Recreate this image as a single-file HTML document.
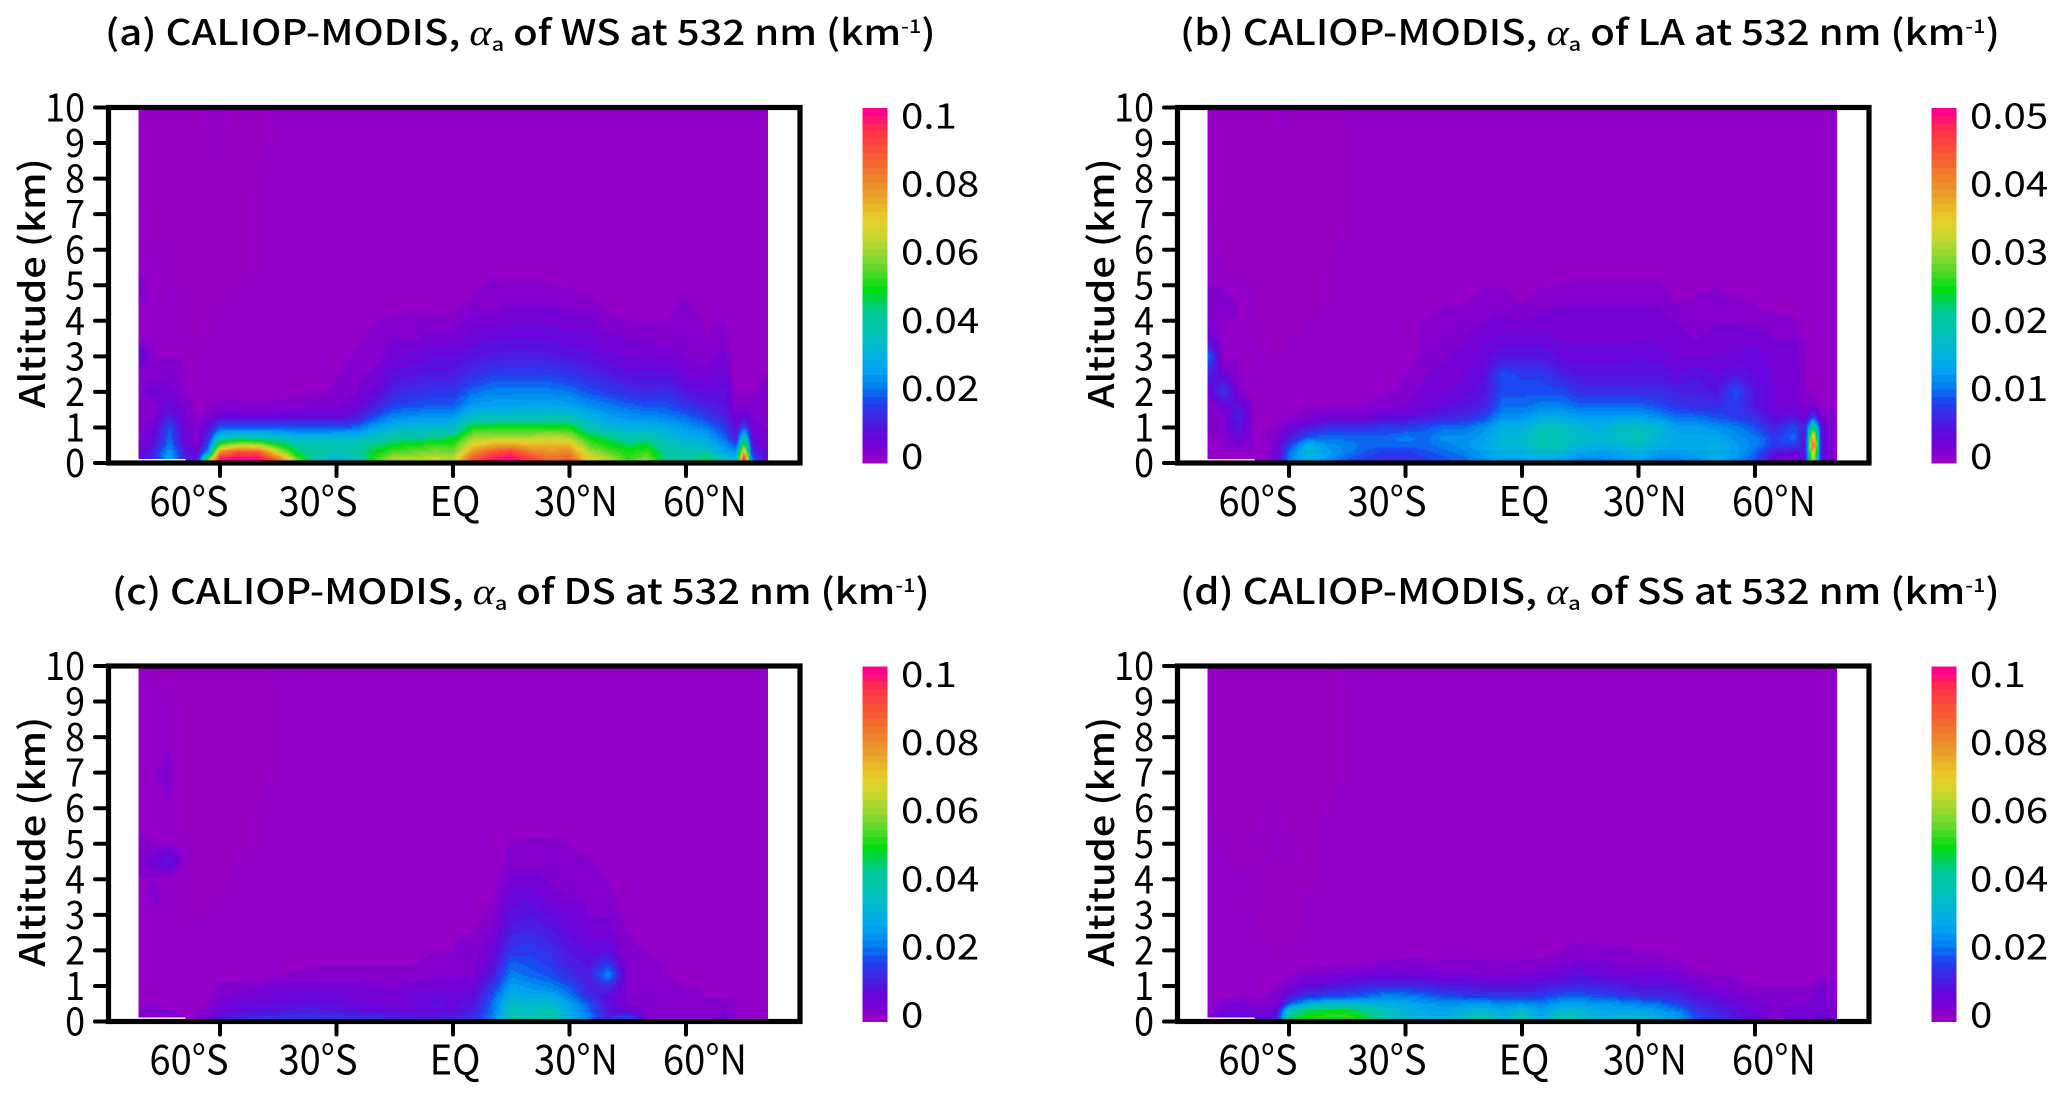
<!DOCTYPE html>
<html lang="en">
<head>
<meta charset="utf-8">
<title>CALIOP-MODIS aerosol extinction by type</title>
<style>
html,body{margin:0;padding:0;background:#fff;}
svg{display:block;}
text{font-family:"Noto Sans CJK JP","Liberation Sans",sans-serif;fill:#000;}
.title{font-size:35px;font-weight:500;}
.alpha{font-family:"Liberation Serif","DejaVu Serif",serif;font-style:italic;font-size:37px;}
.sub{font-size:19px;}
.sup{font-size:19px;}
.axis-title{font-size:35px;font-weight:500;}
.tick{font-size:39px;}
.xtick{font-size:41px;}
.cbar{font-size:35px;}
</style>
</head>
<body>
<svg id="figure" xmlns="http://www.w3.org/2000/svg" width="2067" height="1097" viewBox="0 0 2067 1097">
  <rect x="0" y="0" width="2067" height="1097" fill="#fff"/>
  <text class="title fit" data-w="831" x="105" y="45">(a) CALIOP-MODIS, <tspan class="alpha">α</tspan><tspan class="sub" dy="6">a</tspan><tspan dy="-6"> of WS at 532 nm (km</tspan><tspan class="sup" dy="-12">-1</tspan><tspan dy="12">)</tspan></text>
  <text class="title fit" data-w="820" x="1180" y="45">(b) CALIOP-MODIS, <tspan class="alpha">α</tspan><tspan class="sub" dy="6">a</tspan><tspan dy="-6"> of LA at 532 nm (km</tspan><tspan class="sup" dy="-12">-1</tspan><tspan dy="12">)</tspan></text>
  <text class="title fit" data-w="818" x="112" y="604">(c) CALIOP-MODIS, <tspan class="alpha">α</tspan><tspan class="sub" dy="6">a</tspan><tspan dy="-6"> of DS at 532 nm (km</tspan><tspan class="sup" dy="-12">-1</tspan><tspan dy="12">)</tspan></text>
  <text class="title fit" data-w="820" x="1180" y="604">(d) CALIOP-MODIS, <tspan class="alpha">α</tspan><tspan class="sub" dy="6">a</tspan><tspan dy="-6"> of SS at 532 nm (km</tspan><tspan class="sup" dy="-12">-1</tspan><tspan dy="12">)</tspan></text>
</svg>
<script>
// ---- axes ----
const latitudes = [-81,-77,-73,-69,-66,-63,-60,-55,-50,-45,-40,-35,-30,-25,-20,-15,-10,-5,0,5,10,15,20,25,30,35,40,45,50,55,60,65,70,73,75,77,81];
const altitudes = [0.1,0.3,0.5,0.7,1,1.3,1.6,2,2.5,3,3.5,4,4.5,5,5.5,7,10];
const latTicks = [-60,-30,0,30,60];
const latTickLabels = ['60°S','30°S','EQ','30°N','60°N'];
const altTicks = [0,1,2,3,4,5,6,7,8,9,10];
const colorbarTicksStandard = [0,0.02,0.04,0.06,0.08,0.1];
const colorbarTicksLA = [0,0.01,0.02,0.03,0.04,0.05];
const colorbarMaxStandard = 0.1;
const colorbarMaxLA = 0.05;

// ---- series: extinction (10^-3 km^-1), one profile per latitude, bottom to top; missing top levels are 0 ----
const wsExtinction = [
[8,6,4,3,3,3,2,3,3,9,2,2,2,5,0,0,0],
[14,12,10,8,6,4,3,7,3,2,2,2,2,0,0,-1,-1],
[28,26,22,20,18,12,8,5,3,2,2,1,0,0,0,-1,-1],
[12,10,8,6,6,5,4,2,2,2,1,0,0,-1,-1,-1,-1],
[8,6,4,3,3,2,1,1,0,0,-1,-1,-1,-1,-1,-1,-1],
[55,26,18,14,9,4,2,1,0,0,0,0,-1,-1,-1,-1,0],
[100,80,55,36,18,8,3,1,1,0,0,0,0,-1,-1,-1,0],
[100,90,65,40,18,7,3,1,0,0,0,0,0,0,-1,-1,-1],
[100,88,62,40,18,7,3,1,0,0,0,0,0,0,0,0,-1],
[85,65,50,36,18,7,3,1],
[55,46,40,32,18,8,4,1.5],
[36,40,38,32,18,8,4,2],
[30,36,38,33,18,8,4,2.5,2,1],
[35,40,38,32,20,10,6,4,3,2.5,1.5,1],
[52,48,44,36,26,18,12,7,5,3,3,2,1],
[62,55,48,41,31,23,17,13,9,6,4,2.5,1],
[62,56,50,42,32,24,18,14,10,7,4,3,1.5],
[64,58,52,44,32,25,19,15,11,8,5,3,1],
[62,57,52,47,33,25,19,15,11,8,5,3,1],
[88,78,68,60,49,34,26,20,14,10,7,5,3,1],
[98,88,74,62,50,35,27,22,16,11,8,5,3,3,1],
[100,92,76,62,50,35,27,22,16,12,8,6,4,3],
[92,82,72,62,50,35,28,22,16,12,8,6,4,3,1],
[84,78,72,64,50,36,28,22,16,11,8,6,4,2,1],
[88,80,72,62,50,36,27,21,15,10,7,5,3,2,0.5],
[68,62,55,50,38,30,24,18,13,9,7,5,3,1],
[62,55,50,45,32,26,22,16,11,7,5,3,1],
[52,50,46,38,30,24,20,14,9,6,4,2,1],
[58,53,48,40,30,24,18,13,9,6,4,2,1],
[42,40,38,34,28,22,18,14,9,5,3,2,1.5,1],
[40,38,34,30,25,20,15,10,6,4,3,3,2.5,1],
[48,38,32,28,22,16,12,8,5,3,2,2,1],
[35,28,24,20,16,12,10,9,7,5,3,2,1],
[30,25,18,12,8,5,3,2],
[100,78,55,40,18,8,4,2],
[20,14,10,8,6,4,3,2,1],
[6,6,5,5,4,3,3,3,2,2,2,2,2,2,1]
];
const laExtinction = [
[1,1,1,1,1,1,1,2,6,11,3,2,2,1,1,0,0],
[1,1,1,1,2,2,3,8,3,1,1,1,2,1,0,-1,-1],
[1,1,2,4,5,6,5,2,1,1,1,1,1,0,-1,-1,-1],
[1,1,1,1,1,1,1,0,0,0,1,1,0,0,-1,-1,-1],
[1,1,1,1,1,1,0,0,0,0,0,-1,-1,-1,-1,-1,-1],
[3,3,3,2,1,1,0,0,0,0,-1,-1,-1,-1,-1,-1,0],
[11,10,8,5,3,1,0,0,0,0,0,-1,-1,-1,-1,-1,0],
[15,16,15,10,5,2,1,0,0,0,0,0,-1,-1,-1,-1,-1],
[12,13,12,10,7,3,1,0,0,0,0,0,0,0,0,-1,-1],
[9,11,11,10,7,3,1],
[8,9,10,10,7,3,1.5],
[7,8,10,10,8,4,2,1],
[7,8,10,11,8,4,2,1.5,1],
[8,9,10,10,9,5,3.5,2.5,2,1.5,1.5,1.2],
[9,10,11,12,10,6,4,3,2.5,2,1.5,1.5,1,0.5],
[10,11,12,12,10,6.5,5,3.5,3,2.5,2,1.5,1,0.5],
[12,13,14,13,12,8,6,5,4,3.5,3,2,1.5,1],
[13,15,16,16,15,12,10,9,9,5,3.5,2.5,1.5,1],
[13,15,16,16,15,12,10,9,8,5,3.5,2,1,0.5],
[14,17,19,19,18,14,11,9,8,5,3.5,2.5,1.5,1],
[13,16,18,18,18,14,11,9,6,4,3,2.5,2,1],
[11,14,16,17,16,13,10,7,5,3.5,3,2.5,2,1.5],
[11,13,15,16,15,13,10,7,5,3.5,3,2.5,2,1.5],
[12,14,16,17,17,13,10,7,5,3.5,3,2.5,2,1.5],
[13,15,17,18,18,13,10,7,5,4,3,2.5,2,1.5],
[11,13,15,16,16,12,9,7,5,3.5,3,2.5,2,1.5],
[11,13,14,14,13,10,7.5,6,4,3,2.5,2,1],
[12,14,14,14,13,10,7,6,5,3,2,1.5,1.5,0.5],
[14,15,15,14,12,9,7,5,4,3,2.5,2,1.5,1],
[12,13,13,12,11,8,8,9,5,3.5,2.5,2,1.5],
[9,10,11,11,9,7,5,5,4,3.5,3,1.5,1],
[3,5,8,8,6,4,3,3,3,2.5,2,1.5,0.5],
[2,4,8,10,9,5,3,3,3,3,2,1.5],
[5,5,5,5,6,3,2,1,1,1,1],
[32,38,46,40,24,8,2,1,1],
[5,5,5,5,5,2,1,1,1],
[1,1,1,1,1,1,1,1,1,1,1,1,1,1]
];
const dsExtinction = [
[3,2,2,2,2,2,2,2,1,2,1,2,3,3,1,0,0],
[4,3,2,2,2,1,1,1,1,1,3,2,6,2,1,2,-1],
[3,2,2,1,1,1,1,0,0,2,1,1,10,2,1,3,-1],
[2,2,1,1,1,1,0,0,0,0,0,0,1,0,-1,-1,-1],
[2,2,1,1,1,0,0,0,0,-1,-1,-1,-1,-1,-1,-1,-1],
[5,4,2,2,1,1,0,0,0,0,-1,-1,-1,-1,-1,-1,-1],
[10,6,5,4,3,1,0,0,0,0,0,-1,-1,-1,-1,-1,-1],
[12,8,7,5,3,1,0,0,0,0,0,0,0,-1,-1,-1,-1],
[13,9,8,6,4,1,0,0,0,0,0,0,0,0,0,-1,-1],
[14,10,8,7,5,2,1],
[15,11,9,7,5,3,1],
[15,11,9,7,5,3,2,1],
[15,10,8,7,5,3,2,1],
[14,9,7,6,5,3,2,1],
[13,8,6,6,4,3,2,1],
[12,7,6,5,4,3,2,1],
[11,7,6,7,5,3,2,1],
[10,8,9,7,5,4,3,2,1],
[12,8,8,7,5,4,3,2,2,1],
[14,11,9,8,6,4,3,3,2,1],
[22,20,20,18,14,11,8,6,4,3,1.5,1],
[36,36,34,30,26,22,20,15,12,9,7,5,3,2.5],
[36,34,32,28,24,20,18,16,13,10,8,5,3,3],
[38,38,34,28,22,18,16,14,11,8,5,4,3,3],
[30,28,26,22,18,14,12,10,8,6,4,3,3,2],
[22,20,18,14,11,11,10,8,6,4,4,3,2.5,1],
[12,10,9,8,14,24,16,8,5,4,3,2,1],
[18,5,4,4,3,3,2.5,2.5,2.2,1],
[4,4,4,3,3,2.5,2.5,2,1],
[3,3,3,3,3,2,2,1],
[4,4,3,3,2,1,1],
[3,3,3,2,2,1,1],
[5,4,3,2,2,1],
[2,2,2,2,2,1],
[2,2,2,1,1],
[2,2,2,1,1],
[2,1,1,1]
];
const ssExtinction = [
[3,1,1,1,0,0,0,0,0,0,0,0,0,0,0,-1,-1],
[8,6,4,1,1,0,0,0,0,0,0,0,0,0,-1,-1,-1],
[8,6,5,2,1,0,0,0,0,0,0,0,-1,-1,-1,-1,-1],
[8,6,3,2,1,0,0,0,0,0,-1,0,-1,0,-1,-1,-1],
[7,5,3,2,1,0,0,0,-1,-1,0,-1,0,-1,0,-1,-1],
[12,8,4,3,2,1,0,-1,-1,-1,-1,-1,-1,0,0,-1,-1],
[44,36,18,10,4,2,0,0,-1,-1,-1,-1,0,0,-1,-1,-1],
[50,46,28,15,8,4,1,0,0,0,0,-1,-1,-1,-1,-1,-1],
[52,48,31,17,9,4,2,0,0,0,0,0,0,0,0,-1,-1],
[52,48,32,18,10,5,2],
[47,42,30,20,12,6,2.5],
[36,35,29,23,13,7,3],
[32,31,28,22,13,7,3,1],
[30,28,25,20,12,6,3,1],
[30,27,24,18,10,5,2.5,1],
[34,30,24,16,10,5,2.5,1],
[38,32,25,16,9,4,2.5,1],
[30,28,22,16,9,4,2.5,1],
[38,32,24,15,9,5,2.5,1],
[28,26,22,16,10,5,3,1],
[38,32,26,19,12,7,4,2,1],
[34,32,26,19,13,9,5,3,1],
[30,28,25,18,12,7,5,2.5,1],
[30,28,24,16,11,6,4,2.5,1],
[32,28,22,14,9,6,3,2,1],
[28,26,20,13,9,6,3,2,1],
[26,22,16,12,8,5,2.5,1],
[18,15,12,9,6,3,1],
[14,12,10,7,4,2,1],
[10,9,7,5,3,2],
[7,6,5,4,2,1],
[3,4,4,3,2,1],
[5,5,4,3,2,1],
[5,5,4,3,2,1],
[6,6,5,4,3],
[7,6,5,5,6,1],
[4,3,3,2,2,1]
];

// ---- colour scale (fraction of colourbar maximum -> colour) ----
const colorFractions = [0,0.02,0.066,0.12,0.17,0.217,0.26,0.30,0.36,0.43,0.49,0.56,0.63,0.685,0.77,0.86,0.94,0.99,1];
const colorValues = ['#9400c8','#8c00cc','#6a00d8','#4a20e0','#2040f0','#0080f0','#00a0f0','#00b0e0','#00c0b8','#00c890','#00dc10','#70d830','#c0d830','#e8d028','#e89828','#f56030','#ff3048','#ff0090','#ff0090'];
const bandCount = 48;

function hexToRgb(h){return [parseInt(h.slice(1,3),16),parseInt(h.slice(3,5),16),parseInt(h.slice(5,7),16)];}
function colorFor(fraction){
  if(fraction<-0.005) return '#9700c0';
  if(fraction<0) fraction=0;
  const t=Math.min(1,(Math.floor(fraction*bandCount)+0.5)/bandCount);
  const base=Math.floor(fraction*bandCount)===0?0:t;
  let i=0;
  while(i<colorFractions.length-2 && base>colorFractions[i+1]) i++;
  const f=(base-colorFractions[i])/(colorFractions[i+1]-colorFractions[i]);
  const a=hexToRgb(colorValues[i]),b=hexToRgb(colorValues[i+1]);
  return 'rgb('+a.map((c,k)=>Math.round(c+(b[k]-c)*f)).join(',')+')';
}
function bracket(arr,v){
  let i=0;
  while(i<arr.length-2 && v>arr[i+1]) i++;
  let f=(v-arr[i])/(arr[i+1]-arr[i]);
  return [i,Math.max(0,Math.min(1,f))];
}
function sample(series,lat,alt){
  const [ci,cf]=bracket(latitudes,lat);
  const [ri,rf]=bracket(altitudes,alt);
  const g=(c,r)=>{const v=series[c][r];return v===undefined?0:v;};
  return (g(ci,ri)*(1-cf)+g(ci+1,ri)*cf)*(1-rf)+(g(ci,ri+1)*(1-cf)+g(ci+1,ri+1)*cf)*rf;
}

const NS='http://www.w3.org/2000/svg';
const figure=document.getElementById('figure');
function make(tag,attrs,parent){
  const el=document.createElementNS(NS,tag);
  for(const k in attrs) el.setAttribute(k,attrs[k]);
  parent.appendChild(el);
  return el;
}

function drawPanel(id,series,cbMax,cbTicks,dx,dy){
  const plotLeft=108.5+dx,plotRight=800+dx,plotTop=107.5+dy,plotBottom=463+dy;
  const xScale=lat=>453+dx+lat*3.883;
  const xLabel=lat=>447+dx+lat*4.3+(lat===0?8:0);
  const yScale=alt=>plotBottom-alt*(plotBottom-plotTop)/10;
  const altAt=y=>(plotBottom-y)*10/(plotBottom-plotTop);
  const latAt=x=>(x-453-dx)/3.883;

  const panel=make('g',{},figure);
  
  

  // heatmap drawn from the series through the axis scales
  const heat=make('g',{'shape-rendering':'crispEdges'},panel);
  
  
  const xStart=xScale(latitudes[0]),xEnd=xScale(latitudes[latitudes.length-1]);
  const step=2;
  for(let y=plotTop;y<plotBottom;y+=step){
    let runX=xStart,runColor=null;
    for(let x=xStart;x<=xEnd+step;x+=step){
      const done=x>=xEnd;
      const c=done?null:colorFor(sample(series,latAt(x+step/2),Math.max(0.1,altAt(y+step/2)))/(cbMax*1000));
      if(c!==runColor){
        if(runColor!==null){
          const w=Math.min(x,xEnd)-runX;
          const cell=make('rect',{x:runX,y:y,width:w+0.6,height:step+0.6,fill:runColor},heat);
          
          
        }
        runX=x;runColor=c;
      }
      if(done) break;
    }
  }
  const gap=make('rect',{x:xStart,y:plotBottom-4,width:47,height:2,fill:'#fff'},panel);
  
  

  // frame
  const frame=make('rect',{x:plotLeft,y:plotTop,width:plotRight-plotLeft,height:plotBottom-plotTop,fill:'none',stroke:'#000','stroke-width':5.2},panel);
  
  

  // y axis
  altTicks.forEach(v=>{
    const y=yScale(v);
    const tick=make('line',{x1:95+dx,x2:plotLeft,y1:y,y2:y,stroke:'#000','stroke-width':4,'stroke-linecap':'round'},panel);
    
    
    const label=make('text',{x:0,y:0,class:'tick','text-anchor':'end',transform:'translate('+(85+dx)+','+(y+14)+') scale(0.92,1)'},panel);
    label.textContent=String(v);
    
    
  });
  const yc=yScale(5)-2;
  const yTitle=make('text',{x:0,y:0,class:'axis-title','text-anchor':'middle',transform:'translate('+(45+dx)+','+yc+') rotate(-90)'},panel);
  yTitle.textContent='Altitude (km)';
  
  
  yTitle.setAttribute('textLength','250');
  yTitle.setAttribute('lengthAdjust','spacingAndGlyphs');

  // x axis
  latTicks.forEach((lat,i)=>{
    const x=xScale(lat);
    const tick=make('line',{x1:x,x2:x,y1:plotBottom,y2:plotBottom+13,stroke:'#000','stroke-width':4,'stroke-linecap':'round'},panel);
    
    
    const label=make('text',{x:0,y:0,class:'xtick','text-anchor':'middle',transform:'translate('+xLabel(lat)+','+(plotBottom+53)+') scale(0.93,1)'},panel);
    label.textContent=latTickLabels[i];
    
    
  });

  // colourbar
  const cbLeft=862.5+dx,cbWidth=25,cbTop=plotTop+0.5,cbBottom=plotBottom;
  const cb=make('g',{'shape-rendering':'crispEdges'},panel);
  
  
  const bandH=(cbBottom-cbTop)/bandCount;
  for(let i=0;i<bandCount;i++){
    const band=make('rect',{x:cbLeft,y:cbBottom-(i+1)*bandH,width:cbWidth,height:bandH+0.6,fill:colorFor((i+0.5)/bandCount)},cb);
    
    
  }
  cbTicks.forEach(v=>{
    const yc=plotBottom-6.5-(v/cbMax)*340.5;
    const x=901+dx;
    const label=make('text',{x:0,y:0,class:'cbar',transform:'translate('+x+','+(yc+12.5)+') scale(1.15,1)'},panel);
    label.textContent=String(v);
    
    
  });
}

drawPanel('a',wsExtinction,colorbarMaxStandard,colorbarTicksStandard,0,0);
drawPanel('b',laExtinction,colorbarMaxLA,colorbarTicksLA,1069,0);
drawPanel('c',dsExtinction,colorbarMaxStandard,colorbarTicksStandard,0,558.5);
drawPanel('d',ssExtinction,colorbarMaxStandard,colorbarTicksStandard,1069,558.5);

// fit title widths
document.querySelectorAll('.fit').forEach(el=>{
  const target=+el.getAttribute('data-w');
  const x=+el.getAttribute('x'),y=+el.getAttribute('y');
  const w=el.getComputedTextLength();
  el.setAttribute('transform','translate('+x+','+y+') scale('+(target/w)+',1) translate('+(-x)+','+(-y)+')');
});
</script>
</body>
</html>
